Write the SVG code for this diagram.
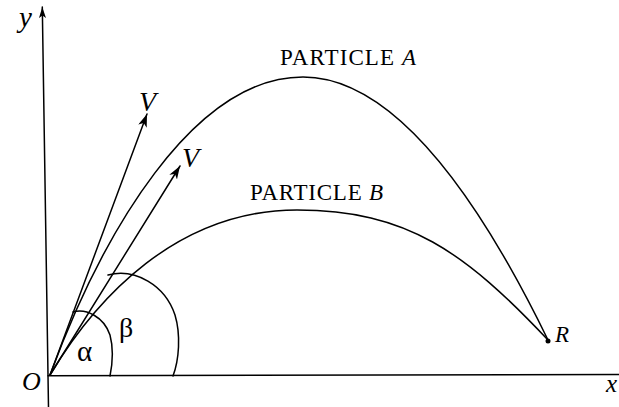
<svg xmlns="http://www.w3.org/2000/svg" width="619" height="407" viewBox="0 0 619 407">
  <style>
    .ln { fill: none; stroke: #000; stroke-width: 1.5; stroke-linecap: round; }
    .t { font-family: "Liberation Serif", "Times New Roman", serif; fill: #000; }
    .i { font-style: italic; }
  </style>
  <defs>
    <marker id="ah" markerUnits="userSpaceOnUse" markerWidth="14" markerHeight="10" refX="13" refY="4.5" orient="auto" viewBox="0 0 14 10">
      <path d="M0,0 L13,4.5 L0,9 L3.5,4.5 Z" fill="#000"/>
    </marker>
    <marker id="ahs" markerUnits="userSpaceOnUse" markerWidth="12" markerHeight="8" refX="11" refY="3.5" orient="auto" viewBox="0 0 12 8">
      <path d="M0,0 L11,3.5 L0,7 L2.5,3.5 Z" fill="#000"/>
    </marker>
  </defs>
  <rect width="619" height="407" fill="#fff"/>

  <g id="axes">
    <line class="ln" x1="48.5" y1="407" x2="42.3" y2="7" marker-end="url(#ahs)"/>
    <line class="ln" x1="48" y1="375.7" x2="619" y2="374.5"/>
    <text class="t i" x="19" y="27" font-size="29">y</text>
    <text class="t i" x="606" y="392" font-size="25">x</text>
    <text class="t i" x="22" y="390" font-size="26">O</text>
  </g>

  <g id="connectors">
    <path id="particle-a-path" class="ln" d="M50,375 C102,234 193,77 303,77 C403,77 491,223 548,340"/>
    <path id="particle-b-path" class="ln" d="M50,375 C96,298 177,210 297,210 C407,210 465,252 548,340"/>
    <line id="velocity-a" class="ln" x1="50" y1="375" x2="147" y2="114" marker-end="url(#ah)"/>
    <line id="velocity-b" class="ln" x1="50" y1="375" x2="180" y2="166" marker-end="url(#ah)"/>
    <path id="arc-alpha" class="ln" d="M73,312 C86,308 104,317 110,335 C114,350 112,366 110,376"/>
    <path id="arc-beta" class="ln" d="M108,275 C135,268 165,285 175,315 C181,335 179,360 173,376"/>
  </g>

  <g id="particle-a">
    <text class="t" x="280" y="65" font-size="23" textLength="136">PARTICLE <tspan class="i">A</tspan></text>
  </g>
  <g id="particle-b">
    <text class="t" x="250" y="200" font-size="23" textLength="133">PARTICLE <tspan class="i">B</tspan></text>
  </g>
  <g id="point-r">
    <circle cx="548" cy="341" r="2.5" fill="#000"/>
    <text class="t i" x="555" y="342" font-size="23">R</text>
  </g>
  <g id="labels">
    <text class="t i" x="139" y="111" font-size="28">V</text>
    <text class="t i" x="182" y="167" font-size="28">V</text>
    <text class="t" x="77" y="361" font-size="29">α</text>
    <text class="t" x="119" y="337" font-size="28">β</text>
  </g>
</svg>
